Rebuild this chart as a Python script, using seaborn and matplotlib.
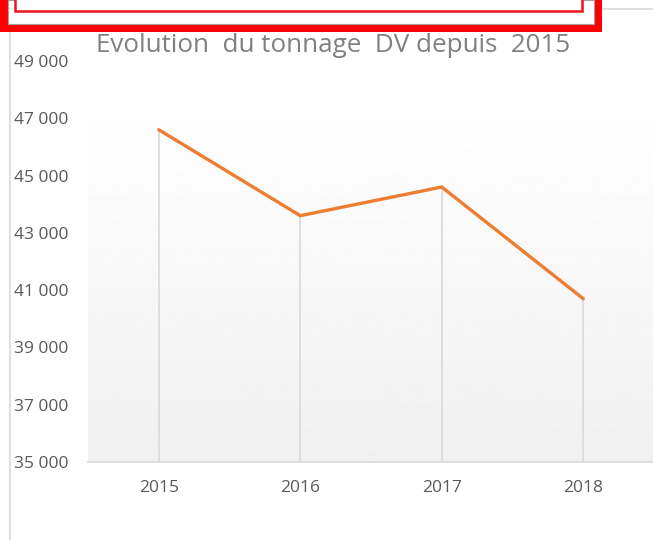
import matplotlib
matplotlib.use("Agg")
import matplotlib.pyplot as plt
import matplotlib.patches as mpatches
import matplotlib.lines as mlines
import matplotlib.ticker as mticker
import seaborn as sns
import numpy as np
import pandas as pd

# données
annees = ["2015", "2016", "2017", "2018"]
tonnage = [46600, 43600, 44600, 40700]
y_ticks = [35000, 37000, 39000, 41000, 43000, 45000, 47000, 49000]
titre = "Evolution  du tonnage  DV depuis  2015"

W, H = 653, 540

sns.set_style("white")
plt.rcParams["font.family"] = ["Open Sans", "DejaVu Sans"]

fig = plt.figure(figsize=(W / 100, H / 100), dpi=100)
fig.patch.set_facecolor("white")


def fx(x):
    return x / W


def fy(y):
    return 1 - y / H


ax = fig.add_axes([fx(88), fy(462), (654 - 88) / W, (462 - 61) / H])

# fond en dégradé (blanc en haut, gris clair en bas)
grad = np.linspace(0.94, 1.0, 256).reshape(-1, 1)
ax.imshow(grad, extent=[0, 1, 0, 0.9], transform=ax.transAxes, cmap="gray",
          vmin=0, vmax=1, aspect="auto", zorder=0, origin="lower")
ax.set_facecolor("white")

df = pd.DataFrame({"annee": annees, "tonnage": tonnage})
xpos = np.arange(len(annees))
ax.vlines(xpos, y_ticks[0], df["tonnage"], color="#d9d9d9", lw=1.2, zorder=1)
sns.lineplot(x=xpos, y=df["tonnage"], ax=ax, color="#ED7D31", lw=2.4, zorder=3)

ax.set_xlim(-0.5, len(annees) - 0.5)
ax.set_ylim(y_ticks[0], y_ticks[-1])
ax.set_xticks(xpos)
ax.set_xticklabels(annees)
ax.set_yticks(y_ticks)
ax.yaxis.set_major_formatter(mticker.FuncFormatter(lambda v, p: f"{int(v):,}".replace(",", " ")))
ax.tick_params(axis="both", length=0, labelsize=12.5, labelcolor="#595959")
ax.tick_params(axis="y", pad=14)
ax.tick_params(axis="x", pad=13)
ax.set_xlabel("")
ax.set_ylabel("")
for s in ["top", "right", "left"]:
    ax.spines[s].set_visible(False)
ax.spines["bottom"].set_color("#d9d9d9")
ax.spines["bottom"].set_linewidth(1.2)

fig.text(fx(333), fy(45), titre, ha="center", va="center", fontsize=18.7, color="#808080")

# bordure du graphique
fig.add_artist(mlines.Line2D([fx(10), fx(10)], [fy(30), 0], color="#d9d9d9", lw=1.2))
fig.add_artist(mlines.Line2D([fx(600), 1], [fy(9), fy(9)], color="#d9d9d9", lw=1.2))

# cadre rouge en haut
fig.add_artist(mpatches.Rectangle((fx(0), fy(32)), fx(602), 32 / H, transform=fig.transFigure,
                                  facecolor="#ff0000", edgecolor="none", zorder=5))
fig.add_artist(mpatches.Rectangle((fx(8), fy(24)), fx(586), 24 / H, transform=fig.transFigure,
                                  facecolor="white", edgecolor="#a0a0a0", lw=0.8, zorder=6))
fig.add_artist(mpatches.Rectangle((fx(15), fy(11)), fx(567), 15 / H, transform=fig.transFigure,
                                  facecolor="white", edgecolor="#e8141b", lw=1.8, zorder=7))

fig.savefig("out.png", dpi=100)
